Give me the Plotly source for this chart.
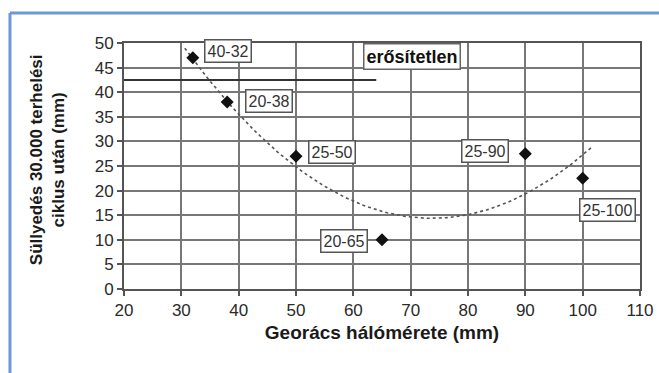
import numpy as np
import plotly.graph_objects as go

# Data
mesh_size = [32, 38, 50, 65, 90, 100]
settlement = [47, 38, 27, 10, 27.5, 22.5]
labels = ["40-32", "20-38", "25-50", "20-65", "25-90", "25-100"]
label_shift_x = [35, 42, 36, -38, -40, 25]
label_shift_y = [7, 1, 4, -1, 3, -32]
limit_x = [20, 64]
limit_y = [42.5, 42.5]
trend_x_range = [30.6, 101.8]
x_ticks = [20, 30, 40, 50, 60, 70, 80, 90, 100, 110]
y_ticks = [0, 5, 10, 15, 20, 25, 30, 35, 40, 45, 50]

FONT = "Liberation Sans, Arial, sans-serif"

coef = np.polyfit(mesh_size, settlement, 2)
tx = np.linspace(trend_x_range[0], trend_x_range[1], 120)
ty = np.polyval(coef, tx)

fig = go.Figure()
fig.add_trace(go.Scatter(x=limit_x, y=limit_y, mode="lines",
                         line=dict(color="#333333", width=2), hoverinfo="skip"))
fig.add_trace(go.Scatter(x=tx, y=ty, mode="lines",
                         line=dict(color="#555555", width=1.6, dash="3px,3px"), hoverinfo="skip"))
fig.add_trace(go.Scatter(x=mesh_size, y=settlement, mode="markers",
                         marker=dict(symbol="diamond", size=10, color="#111111")))

for x, y, t, sx, sy in zip(mesh_size, settlement, labels, label_shift_x, label_shift_y):
    fig.add_annotation(x=x, y=y, text=t, showarrow=False, xshift=sx, yshift=sy,
                       font=dict(family=FONT, size=16, color="#333333"),
                       bgcolor="white", bordercolor="#555555", borderwidth=1.5, borderpad=2)

fig.add_annotation(x=70.3, y=1.0, yref="paper", text="<b>erősítetlen</b>", showarrow=False,
                   font=dict(family=FONT, size=18, color="#111111"),
                   bgcolor="white", bordercolor="#666666", borderwidth=1.5, borderpad=2)

# y-axis title as rotated annotation
fig.add_annotation(x=-0.149, y=0.524, xref="paper", yref="paper", xanchor="center", yanchor="middle",
                   text="<b>Süllyedés 30.000 terhelési<br>ciklus után (mm)</b>", textangle=-90,
                   showarrow=False, font=dict(family=FONT, size=17, color="#1a1a1a"))

# blue frame (left and top edges)
fig.add_shape(type="line", xref="paper", yref="paper", x0=-0.221, x1=-0.221, y0=1.122, y1=-0.35,
              line=dict(color="#6b98d8", width=3))
fig.add_shape(type="line", xref="paper", yref="paper", x0=-0.221, x1=1.04, y0=1.122, y1=1.122,
              line=dict(color="#6b98d8", width=3))

axis_common = dict(showgrid=True, gridcolor="#777777", gridwidth=2,
                   showline=True, linecolor="#555555", linewidth=2, mirror=True,
                   ticks="outside", ticklen=5, tickcolor="#555555", tickwidth=1.5,
                   zeroline=False, automargin=False,
                   tickfont=dict(family=FONT, size=17, color="#2a2a2a"))

fig.update_layout(
    width=659, height=373,
    margin=dict(l=124, r=19, t=43, b=84),
    paper_bgcolor="white", plot_bgcolor="white",
    showlegend=False,
    xaxis=dict(range=[20, 110], tickvals=x_ticks,
               title=dict(text="<b>Georács hálómérete (mm)</b>", standoff=6,
                          font=dict(family=FONT, size=19, color="#1a1a1a")),
               **axis_common),
    yaxis=dict(range=[0, 50], tickvals=y_ticks, **axis_common),
)

fig.write_html("out.html")
